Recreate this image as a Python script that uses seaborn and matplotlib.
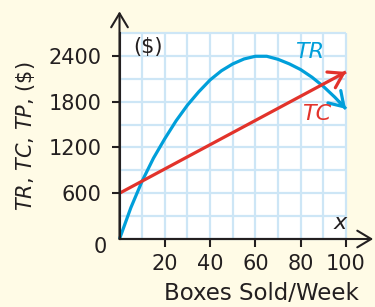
import numpy as np
import pandas as pd
import matplotlib.pyplot as plt
import seaborn as sns

# =========================
# Daten
# =========================
boxes = [0, 5, 10, 15, 20, 25, 30, 35, 40, 45, 50,
         55, 60, 65, 70, 75, 80, 85, 90, 95, 100]
tr_values = [0, 410, 760, 1060, 1315, 1550, 1755, 1930, 2085, 2205, 2295,
             2360, 2395, 2395, 2355, 2295, 2220, 2120, 2000, 1860, 1705]
tc_boxes = [0, 100]
tc_values = [600, 2190]

x_ticks = [20, 40, 60, 80, 100]
y_ticks = [600, 1200, 1800, 2400]

BG = '#FFFBE6'
GRID = '#CDE6F6'
BLUE = '#009FDA'
RED = '#E2332B'
INK = '#231F20'

df_tr = pd.DataFrame({'boxes': boxes, 'value': tr_values})
df_tc = pd.DataFrame({'boxes': tc_boxes, 'value': tc_values})

sns.set_theme(style='white')
plt.rcParams['font.family'] = ['DejaVu Sans']
plt.rcParams['mathtext.fontset'] = 'dejavusans'
plt.rcParams['text.color'] = INK

fig = plt.figure(figsize=(3.75, 3.07), dpi=100, facecolor=BG)
ax = fig.add_axes([0.3187, 0.2215, 0.604, 0.671])
ax.set_facecolor('white')
ax.set_xlim(0, 100)
ax.set_ylim(0, 2700)

# Gitter
for gx in range(0, 101, 10):
    ax.axvline(gx, color=GRID, lw=1.6, zorder=0, clip_on=False)
for gy in range(0, 2701, 300):
    ax.axhline(gy, color=GRID, lw=1.6, zorder=0, clip_on=False)

# Kurven
sns.lineplot(data=df_tr, x='boxes', y='value', color=BLUE, lw=2.3, ax=ax)
sns.lineplot(data=df_tc, x='boxes', y='value', color=RED, lw=2.3, ax=ax)
for ln in ax.lines:
    ln.set_clip_on(False)
    ln.set_solid_capstyle('butt')

# Pfeilspitzen an den Kurvenenden
for df, col in [(df_tr, BLUE), (df_tc, RED)]:
    x1, y1 = df['boxes'].iloc[-1], df['value'].iloc[-1]
    x0 = x1 - 3
    y0 = np.interp(x0, df['boxes'], df['value'])
    ax.annotate('', xy=(x1, y1), xytext=(x0, y0), annotation_clip=False,
                arrowprops=dict(arrowstyle='->,head_length=0.5,head_width=0.32',
                                color=col, lw=2.3, shrinkA=0, shrinkB=0,
                                mutation_scale=20))

# Achsen
for s in ['top', 'right']:
    ax.spines[s].set_visible(False)
for s in ['left', 'bottom']:
    ax.spines[s].set_color(INK)
    ax.spines[s].set_linewidth(1.5)
ax.annotate('', xy=(0, 1.105), xytext=(0, 0), xycoords='axes fraction',
            annotation_clip=False,
            arrowprops=dict(arrowstyle='->,head_length=0.5,head_width=0.3',
                            color=INK, lw=1.5, shrinkA=0, shrinkB=0, mutation_scale=20))
ax.annotate('', xy=(1.12, 0), xytext=(0, 0), xycoords='axes fraction',
            annotation_clip=False,
            arrowprops=dict(arrowstyle='->,head_length=0.5,head_width=0.3',
                            color=INK, lw=1.5, shrinkA=0, shrinkB=0, mutation_scale=20))

ax.set_xticks(x_ticks)
ax.set_yticks(y_ticks)
ax.tick_params(axis='both', bottom=True, left=True, direction='out', length=6,
               width=1.5, color=INK, labelsize=15, labelcolor=INK)
ax.tick_params(axis='x', pad=5)
ax.tick_params(axis='y', pad=7)
ax.annotate('0', xy=(0, 0), xytext=(-9, -6), textcoords='offset points',
            ha='right', va='center', fontsize=15, color=INK)

ax.set_xlabel('Boxes Sold/Week', fontsize=16.5, color=INK)
ax.xaxis.set_label_coords(0.625, -0.21)
ax.set_ylabel('')
ax.text(-0.413, 0.5, r'$\mathit{TR}$, $\mathit{TC}$, $\mathit{TP}$, (\$)',
        rotation=90, ha='center', va='center', fontsize=15, color=INK,
        transform=ax.transAxes)

# Beschriftungen im Diagramm
ax.text(12.6, 2520, '($)', ha='center', va='center', fontsize=15, color=INK)
ax.text(84.1, 2448, 'TR', ha='center', va='center', fontsize=16,
        style='italic', color=BLUE)
ax.text(87.1, 1640, 'TC', ha='center', va='center', fontsize=16,
        style='italic', color=RED)
ax.text(97.3, 214, 'x', ha='center', va='center', fontsize=16,
        style='italic', color=INK)

fig.savefig('out.png', dpi=100, facecolor=BG)
